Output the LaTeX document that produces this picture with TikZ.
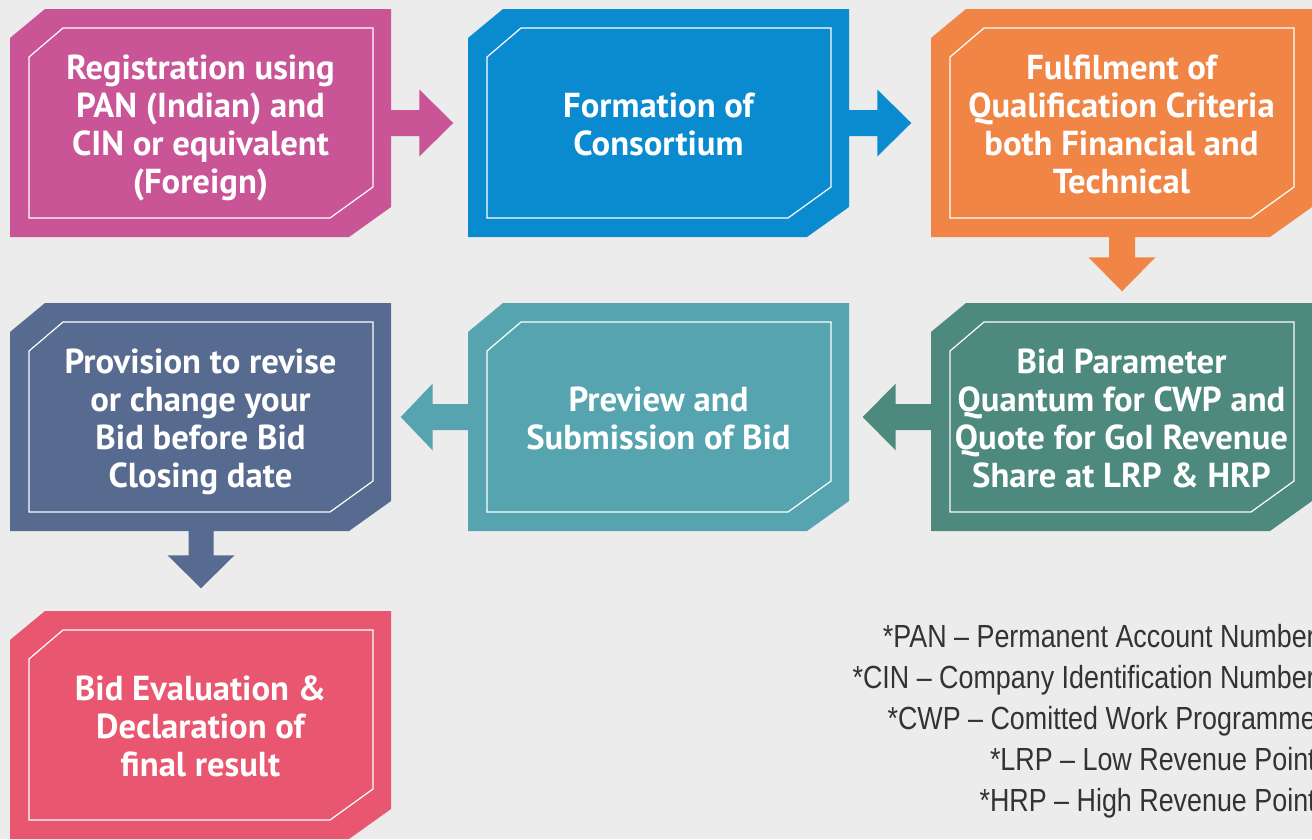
\documentclass[tikz,border=0pt]{standalone}
\usepackage{fontspec}
\setmainfont{PT Sans}
\newfontfamily\boxfont{PT Sans}
\newfontfamily\notefont{Liberation Sans}[FakeStretch=0.84]
\usetikzlibrary{calc}
\definecolor{bg}{HTML}{EBECEB}
\definecolor{cpink}{HTML}{C95496}
\definecolor{cblue}{HTML}{0A8BD0}
\definecolor{corange}{HTML}{F08545}
\definecolor{cgreen}{HTML}{4D897C}
\definecolor{cteal}{HTML}{55A4AF}
\definecolor{cslate}{HTML}{576A90}
\definecolor{cred}{HTML}{E8566F}
\definecolor{notegray}{HTML}{333333}
\tikzset{
  boxshape/.style={rectangle, inner sep=0pt, minimum width=285.75pt, minimum height=171pt},
  boxtext/.style={inner sep=0pt, text depth=0pt, align=center, text=white,
    font=\boxfont\bfseries\fontsize{26}{28.5}\selectfont},
  innerline/.style={draw=white, line width=0.9pt},
  notetext/.style={anchor=base east, inner sep=0pt, text=notegray, font=\notefont\fontsize{24}{28}\selectfont},
}
\newcommand\chbox[5]{%
  \begin{scope}[shift={(#2,#3)}]
    \fill[#4] (-155.5,-114) -- (190.5,-114) -- (190.5,84) -- (148.5,114) -- (-190.5,114) -- (-190.5,-85) -- cycle;
    \draw[innerline] (-137.5,-95) -- (172.5,-95) -- (172.5,64) -- (129.5,95) -- (-171.5,95) -- (-171.5,-66) -- cycle;
  \end{scope}
  \node[boxshape] (#1) at (#2,#3) {};
  \node[boxtext] (#1t) at ($(#1.center)+(0,1.5)$) {#5};
}
\begin{document}
\begin{tikzpicture}[x=0.75pt,y=-0.75pt]
\fill[bg] (0,0) rectangle (1312,839);
\useasboundingbox (0,0) rectangle (1312,839);
\clip (0,0) rectangle (1312,839);

\chbox{b1}{200.5}{123}{cpink}{Registration using\\PAN (Indian) and\\CIN or equivalent\\(Foreign)}
\chbox{b2}{658.5}{123}{cblue}{Formation of\\Consortium}
\chbox{b3}{1121.5}{123}{corange}{Fulfilment of\\Qualification Criteria\\both Financial and\\Technical}
\chbox{b4}{1121.5}{417}{cgreen}{Bid Parameter\\Quantum for CWP and\\Quote for GoI Revenue\\Share at LRP \& HRP}
\chbox{b5}{658.5}{417}{cteal}{Preview and\\Submission of Bid}
\chbox{b6}{200.5}{417}{cslate}{Provision to revise\\or change your\\Bid before Bid\\Closing date}
\chbox{b7}{200.5}{725}{cred}{Bid Evaluation \&\\Declaration of\\final result}

% right arrows
\fill[cpink] ($(b1.east)+(-2,-13)$) -- ++(30,0) -- ++(0,-20.5) -- ++(34,33.5) -- ++(-34,33.5) -- ++(0,-20.5) -- ++(-30,0) -- cycle;
\fill[cblue] ($(b2.east)+(-2,-13)$) -- ++(30,0) -- ++(0,-20.5) -- ++(34,33.5) -- ++(-34,33.5) -- ++(0,-20.5) -- ++(-30,0) -- cycle;
% down arrows
\fill[corange] ($(b3.south)+(0.5,-2)$) ++(-13,0) -- ++(0,22) -- ++(-20.5,0) -- ++(33.5,34) -- ++(33.5,-34) -- ++(-20.5,0) -- ++(0,-22) -- cycle;
\fill[cslate] ($(b6.south)+(0.5,-2)$) ++(-12.5,0) -- ++(0,26) -- ++(-21,0) -- ++(33.5,33) -- ++(33.5,-33) -- ++(-21,0) -- ++(0,-26) -- cycle;
% left arrows
\fill[cgreen] ($(b4.west)+(2,-13)$) -- ++(-37,0) -- ++(0,-20.5) -- ++(-33,33.5) -- ++(33,33.5) -- ++(0,-20.5) -- ++(37,0) -- cycle;
\fill[cteal] ($(b5.west)+(2,-13)$) -- ++(-37,0) -- ++(0,-20.5) -- ++(-32,33.5) -- ++(32,33.5) -- ++(0,-20.5) -- ++(37,0) -- cycle;

% notes
\node[notetext] (n1) at (1316,647) {*PAN – Permanent Account Number};
\node[notetext] (n2) at (1316,688) {*CIN – Company Identification Number};
\node[notetext] (n3) at (1316,729) {*CWP – Comitted Work Programme};
\node[notetext] (n4) at (1316,770) {*LRP – Low Revenue Point};
\node[notetext] (n5) at (1316,811) {*HRP – High Revenue Point};
\end{tikzpicture}
\end{document}
